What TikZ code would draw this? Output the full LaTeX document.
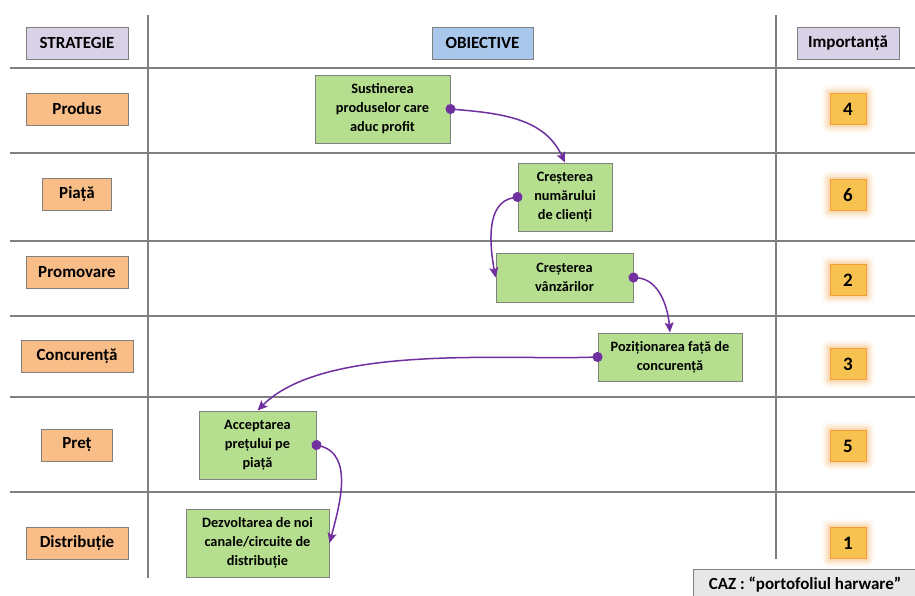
\documentclass[tikz,border=0pt]{standalone}
\usepackage{fontspec}
\setmainfont{Carlito}
\usepackage{xcolor}
\usetikzlibrary{arrows.meta,positioning,backgrounds}

\definecolor{linha}{HTML}{808080}
\definecolor{lilas}{HTML}{D9D1E6}
\definecolor{azul}{HTML}{A9C6EB}
\definecolor{laranja}{HTML}{F9BD88}
\definecolor{verde}{HTML}{B5DE8E}
\definecolor{ouro}{HTML}{F7C24F}
\definecolor{brilho}{HTML}{F49B3A}
\definecolor{roxo}{HTML}{7030A0}
\definecolor{cinza}{HTML}{E7E7E7}

\begin{document}
\begin{tikzpicture}[
			x=1pt, y=1pt,
			grade/.style={draw=linha, line width=1.3pt},
			cab/.style={rectangle, draw=linha, line width=1pt, inner sep=0pt, minimum width=102pt, minimum height=32pt, font=\fontsize{17}{20}\selectfont\bfseries},
			estr/.style={rectangle, draw=linha, fill=laranja, line width=1pt, inner sep=0pt, minimum height=32pt, font=\fontsize{17}{20}\selectfont\bfseries},
			obj/.style={rectangle, draw=linha, fill=verde, line width=1pt, inner sep=0pt, align=center, font=\fontsize{14.3}{19}\selectfont\bfseries},
			imp/.style={rectangle, draw=brilho, fill=ouro, line width=1pt, inner sep=0pt, minimum width=36pt, minimum height=31pt, font=\fontsize{19}{21}\selectfont\bfseries},
			seta/.style={roxo, line width=1.5pt, shorten <=-5pt, {Circle[length=10pt]}-{Stealth[length=10pt, width=9pt, inset=2pt]}}
			]
			\useasboundingbox (0,0) rectangle (915,-595);
			
			% Grelha
			\draw[grade] (148,-15) -- (148,-578);
			\draw[grade] (776,-15) -- (776,-559);
			\foreach \y in {68,153,241,316,397,492}
				\draw[grade] (10,-\y) -- (915,-\y);
			
			% Cabeçalho
			\node[cab, fill=lilas] (hstr) at (77,-43) {STRATEGIE};
			\node[cab, fill=azul, minimum width=101pt] (hobj) at (482.5,-43) {OBIECTIVE};
			\node[cab, fill=lilas] (himp) at (848,-43) {Importanță};
			
			% Estratégias
			\node[estr, minimum width=102pt] (produs) at (77,-109) {Produs};
			\node[estr, minimum width=69pt] (piata) at (77,-194) {Piață};
			\node[estr, minimum width=102pt] (promovare) at (77,-272) {Promovare};
			\node[estr, minimum width=112pt] (concurenta) at (77,-356.5) {Concurență};
			\node[estr, minimum width=71pt] (pret) at (77,-445) {Preț};
			\node[estr, minimum width=102pt] (distributie) at (77,-543) {Distribuție};
			
			% Objetivos
			\node[obj, minimum width=135pt, minimum height=68pt] (sust) at (382.5,-109) {Sustinerea\\produselor care\\aduc profit};
			\node[obj, minimum width=94pt, minimum height=68pt] (clienti) at (565,-197) {Creșterea\\numărului\\de clienți};
			\node[obj, minimum width=137pt, minimum height=49pt] (vanzari) at (564.5,-277.5) {Creșterea\\vânzărilor};
			\node[obj, minimum width=144pt, minimum height=48pt] (pozitie) at (670,-357) {Poziționarea față de\\concurență};
			\node[obj, minimum width=117pt, minimum height=68pt] (accept) at (257.5,-445) {Acceptarea\\prețului pe\\piață};
			\node[obj, minimum width=143pt, minimum height=68pt] (dezv) at (257.5,-543) {Dezvoltarea de noi\\canale/circuite de\\distribuție};
			
			% Importância
			\node[imp] (imp1) at (848,-109) {4};
			\node[imp] (imp2) at (848,-195) {6};
			\node[imp] (imp3) at (848,-280) {2};
			\node[imp] (imp4) at (848,-364) {3};
			\node[imp] (imp5) at (848,-446) {5};
			\node[imp] (imp6) at (848,-543) {1};
			
			\begin{scope}[on background layer]
				\foreach \n in {imp1,imp2,imp3,imp4,imp5,imp6}
					\foreach \r/\o in {8/0.05,6/0.08,4/0.12,2/0.18}
						\fill[brilho, opacity=\o, rounded corners=\r pt]
							([shift={(-\r,-\r)}]\n.south west) rectangle ([shift={(\r,\r)}]\n.north east);
			\end{scope}
			
			% Caso
			\node[rectangle, draw=linha, fill=cinza, line width=1pt, minimum width=224pt, minimum height=32pt, font=\fontsize{17}{20}\selectfont\bfseries] (caz) at (805,-585) {CAZ : “portofoliul harware”};
			
			% Ligações entre objetivos
			\draw[seta] (sust.east) to[out=-5, in=115] (clienti.north);
			\draw[seta] (clienti.west) to[out=190, in=100] (vanzari.west);
			\draw[seta] (vanzari.east) to[out=-5, in=95] (pozitie.north);
			\draw[seta] (pozitie.west) to[out=182, in=45, looseness=0.7] (accept.north);
			\draw[seta] (accept.east) to[out=-15, in=75] (dezv.east);
			
		\end{tikzpicture}
\end{document}
